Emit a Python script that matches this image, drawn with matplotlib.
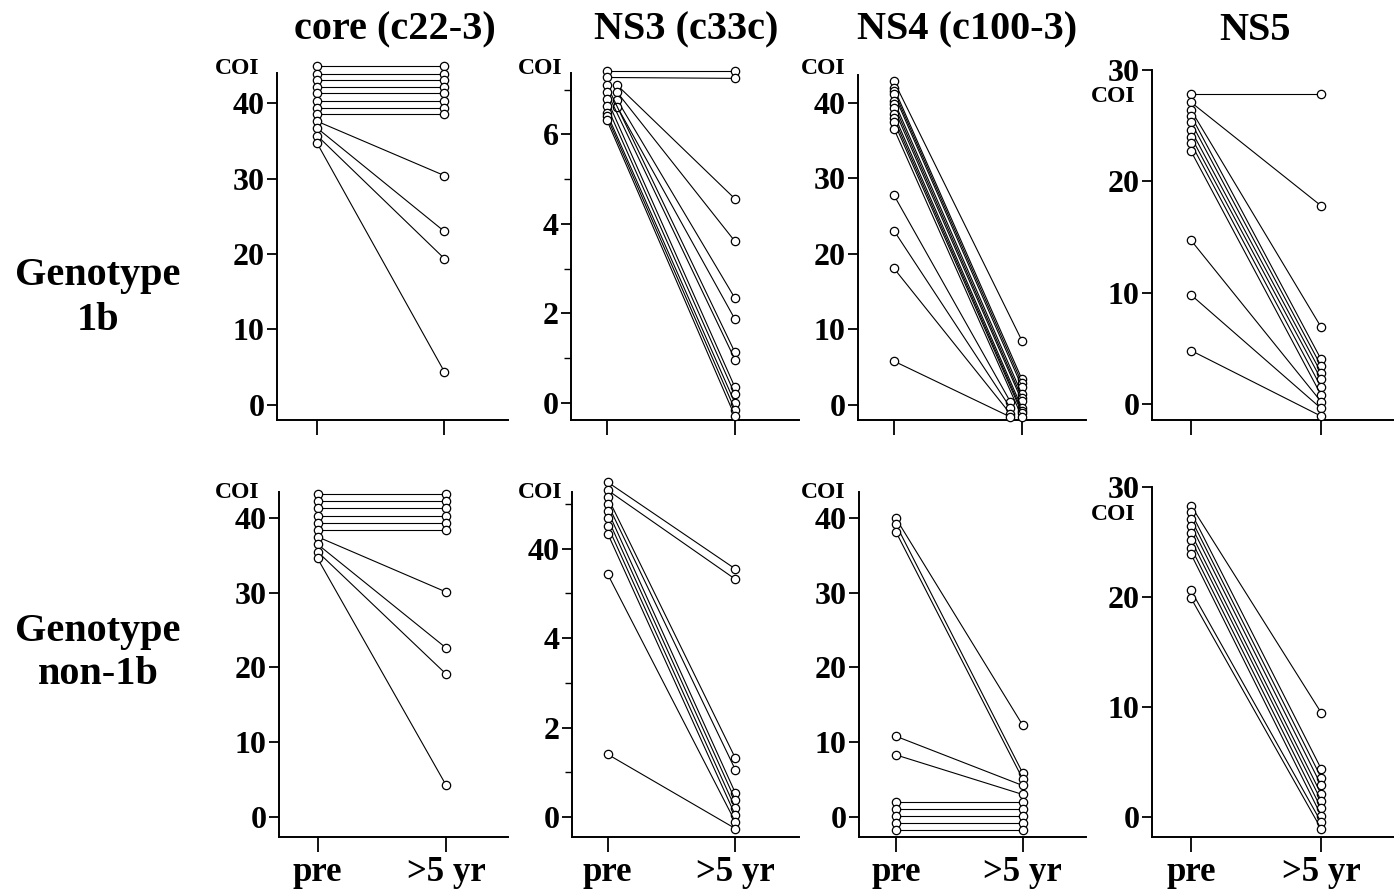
import matplotlib
matplotlib.use('Agg')
import matplotlib.pyplot as plt
from matplotlib.ticker import MultipleLocator

plt.rcParams['font.family'] = ['Liberation Serif', 'DejaVu Serif']
plt.rcParams['font.weight'] = 'bold'

W, H = 1394, 892

titles = ['core (c22-3)', 'NS3 (c33c)', 'NS4 (c100-3)', 'NS5']
row_labels = ['Genotype\n1b', 'Genotype\nnon-1b']
time_labels = ['pre', '>5 yr']

# ---- genotype 1b ----
core_1b_pre = [44.9, 43.9, 43.1, 42.2, 41.3, 40.3, 39.4, 38.5, 37.6, 36.7, 35.7, 34.7]
core_1b_post = [44.9, 43.9, 43.1, 42.2, 41.3, 40.3, 39.4, 38.5, 30.4, 23.0, 19.4, 4.4]

ns3_1b_pre = [7.42, 7.27, 7.10, 6.94, 6.77, 6.62, 7.10, 6.95, 6.79, 6.63, 6.47, 6.40, 6.32]
ns3_1b_post = [7.42, 7.25, 4.56, 3.61, 2.34, 1.87, 1.13, 0.97, 0.35, 0.19, 0.0, -0.15, -0.30]
ns3_1b_shift = [0, 0, 1, 1, 1, 1, 0, 0, 0, 0, 0, 0, 0]   # pre points drawn in second column

ns4_1b_pre = [42.9, 42.0, 41.6, 41.2, 40.3, 39.8, 39.3, 38.5, 38.0, 37.5, 36.6, 27.8, 23.1, 18.1, 5.8]
ns4_1b_post = [8.5, 3.4, 2.9, 2.4, 1.4, 0.9, 0.5, -0.4, -0.8, -1.1, -1.6, 0.4, -0.4, -1.2, -1.6]
ns4_1b_shift = [0, 0, 0, 0, 0, 0, 0, 0, 0, 0, 0, 1, 1, 1, 1]  # post points drawn in left column

ns5_1b_pre = [27.8, 27.1, 26.4, 25.9, 25.3, 24.6, 24.0, 23.4, 22.7, 14.7, 9.8, 4.8]
ns5_1b_post = [27.8, 17.8, 6.9, 4.0, 3.4, 2.8, 2.2, 1.5, 0.8, 0.2, -0.4, -1.1]

# ---- genotype non-1b ----
core_n1b_pre = [43.2, 42.3, 41.3, 40.3, 39.4, 38.4, 37.5, 36.5, 35.5, 34.6]
core_n1b_post = [43.2, 42.3, 41.3, 40.3, 39.4, 38.4, 30.1, 22.6, 19.1, 4.2]

ns3_n1b_pre = [7.49, 7.31, 7.15, 7.00, 6.85, 6.68, 6.51, 6.34, 5.43, 1.40]
ns3_n1b_post = [5.55, 5.32, 1.32, 1.06, 0.54, 0.38, 0.20, 0.04, -0.11, -0.26]

ns4_n1b_pre = [40.0, 39.2, 38.2, 10.8, 8.3, 2.0, 1.0, 0.1, -0.8, -1.7]
ns4_n1b_post = [12.3, 5.9, 5.1, 4.2, 3.0, 2.0, 1.0, 0.1, -0.8, -1.7]

ns5_n1b_pre = [28.3, 27.7, 27.1, 26.5, 25.8, 25.2, 24.5, 23.9, 20.6, 19.9]
ns5_n1b_post = [9.5, 4.4, 3.6, 2.9, 2.1, 1.5, 0.8, 0.15, -0.45, -1.06]

ns3_tick_labels_n1b = ['0', '2', '4', '40']

fig = plt.figure(figsize=(W / 100, H / 100), dpi=100)


def make_axes(left, right, top, bottom):
    return fig.add_axes([left / W, 1 - bottom / H, (right - left) / W, (bottom - top) / H])


def panel(ax, pre, post, ylim, xlim, major, minor=None, pre_shift=None, post_shift=None,
          show_x=False):
    n = len(pre)
    pre_shift = pre_shift or [0] * n
    post_shift = post_shift or [0] * n
    for a, b, s0, s1 in zip(pre, post, pre_shift, post_shift):
        ax.plot([0 + 0.08 * s0, 1 - 0.09 * s1], [a, b], '-o', color='k', lw=0.8,
                mfc='white', mec='k', ms=6, mew=0.9, clip_on=False, zorder=3)
    ax.set_xlim(*xlim)
    ax.set_ylim(*ylim)
    ax.spines['top'].set_visible(False)
    ax.spines['right'].set_visible(False)
    ax.spines['left'].set_linewidth(1.4)
    ax.spines['bottom'].set_linewidth(1.4)
    ax.yaxis.set_major_locator(MultipleLocator(major))
    if minor:
        ax.yaxis.set_minor_locator(MultipleLocator(minor))
    ax.set_xticks([0, 1])
    ax.set_xticklabels(time_labels if show_x else ['', ''])
    ax.tick_params(axis='both', which='major', direction='out', length=7, width=1.3,
                   labelsize=23, pad=2)
    ax.tick_params(axis='x', length=11, labelsize=25, pad=3)
    ax.tick_params(axis='y', which='minor', direction='out', length=5, width=1.0)
    for lab in ax.get_yticklabels() + ax.get_xticklabels():
        lab.set_fontweight('bold')


# row 1 (genotype 1b)
ax = make_axes(277, 508, 73, 420)
panel(ax, core_1b_pre, core_1b_post, (-2.0, 44.0), (-0.315, 1.5), 10)
ax.set_yticks([0, 10, 20, 30, 40])

ax = make_axes(571, 799, 73, 420)
panel(ax, ns3_1b_pre, ns3_1b_post, (-0.38, 7.37), (-0.28, 1.5), 2, 1, pre_shift=ns3_1b_shift)

ax = make_axes(858, 1086, 75, 420)
panel(ax, ns4_1b_pre, ns4_1b_post, (-2.0, 43.7), (-0.28, 1.5), 10, post_shift=ns4_1b_shift)

ax = make_axes(1152, 1394, 70, 420)
panel(ax, ns5_1b_pre, ns5_1b_post, (-1.44, 30), (-0.30, 1.56), 10)

# row 2 (genotype non-1b)
ax = make_axes(279, 508, 492, 837)
panel(ax, core_n1b_pre, core_n1b_post, (-2.7, 43.5), (-0.30, 1.48), 10, show_x=True)
ax.set_yticks([0, 10, 20, 30, 40])

ax = make_axes(572, 799, 492, 837)
panel(ax, ns3_n1b_pre, ns3_n1b_post, (-0.45, 7.27), (-0.28, 1.5), 2, 1, show_x=True)
ax.set_yticks([0, 2, 4, 6])
ax.set_yticklabels(ns3_tick_labels_n1b, fontweight='bold')

ax = make_axes(859, 1086, 492, 837)
panel(ax, ns4_n1b_pre, ns4_n1b_post, (-2.7, 43.5), (-0.29, 1.5), 10, show_x=True)
ax.set_yticks([0, 10, 20, 30, 40])

ax = make_axes(1152, 1394, 487, 837)
panel(ax, ns5_n1b_pre, ns5_n1b_post, (-1.8, 30), (-0.30, 1.56), 10, show_x=True)


def ftext(x, y, s, **kw):
    fig.text(x / W, 1 - y / H, s, ha='center', va='center', fontweight='bold', **kw)


for x, t in zip([395, 686, 967, 1255], titles):
    ftext(x, 30, t, fontsize=29)

ftext(98, 298, row_labels[0], fontsize=29, linespacing=1.25)
ftext(98, 653, row_labels[1], fontsize=29, linespacing=1.25)

for x, y in [(237, 68), (540, 68), (823, 68), (1113, 97),
             (237, 492), (540, 492), (823, 492), (1113, 515)]:
    ftext(x, y, 'COI', fontsize=17)

fig.savefig('out.png', dpi=100)
